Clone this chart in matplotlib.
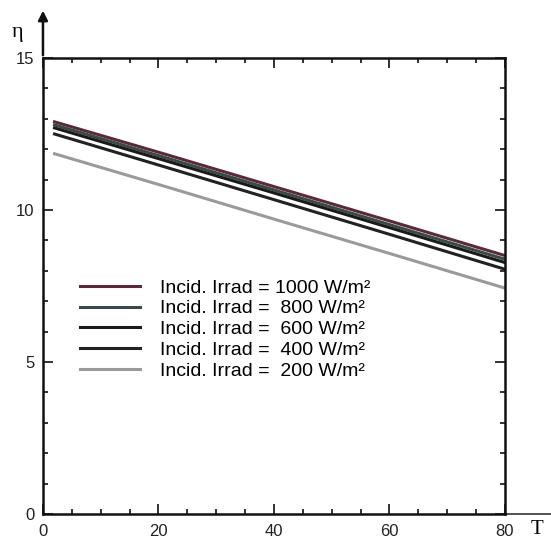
import matplotlib
matplotlib.use("Agg")
import matplotlib.pyplot as plt
from matplotlib.ticker import MultipleLocator

# temperature (deg C) and efficiency (%)
temps = [2, 20, 40, 60, 80]
eta_1000 = [12.90, 11.90, 10.77, 9.64, 8.50]
eta_800 = [12.80, 11.79, 10.66, 9.52, 8.38]
eta_600 = [12.70, 11.69, 10.56, 9.42, 8.27]
eta_400 = [12.50, 11.48, 10.34, 9.20, 8.05]
eta_200 = [11.85, 10.84, 9.70, 8.57, 7.43]

labels = [
    "Incid. Irrad = 1000 W/m\u00b2",
    "Incid. Irrad =  800 W/m\u00b2",
    "Incid. Irrad =  600 W/m\u00b2",
    "Incid. Irrad =  400 W/m\u00b2",
    "Incid. Irrad =  200 W/m\u00b2",
]
values = [eta_1000, eta_800, eta_600, eta_400, eta_200]
colors = ["#5a2a36", "#3a4a4a", "#1a1a1a", "#222222", "#9a9a9a"]

plt.rcParams["font.family"] = ["Liberation Sans", "DejaVu Sans"]

fig = plt.figure(figsize=(5.51, 5.45), dpi=100)
ax = fig.add_axes([0.078, 0.0569, 0.8385, 0.8367])

for label, vals, col in zip(labels, values, colors):
    ax.plot(temps, vals, color=col, lw=2.2, label=label)

ax.set_xlim(0, 80)
ax.set_ylim(0, 15)
ax.xaxis.set_major_locator(MultipleLocator(20))
ax.xaxis.set_minor_locator(MultipleLocator(5))
ax.yaxis.set_major_locator(MultipleLocator(5))
ax.yaxis.set_minor_locator(MultipleLocator(1))
ax.tick_params(which="both", direction="in", top=True, right=True,
               width=1.3, labelsize=12, colors="#222222")
ax.tick_params(which="major", length=7)
ax.tick_params(which="minor", length=3.5)
ax.tick_params(axis="x", which="major", pad=7)
ax.tick_params(axis="y", which="major", pad=6)
for sp in ax.spines.values():
    sp.set_linewidth(1.8)
    sp.set_color("#111111")

# axis arrow on the y axis and the x axis running on past the frame
ax.annotate("", xy=(0, 1.11), xytext=(0, 1.0), xycoords="axes fraction",
            arrowprops=dict(arrowstyle="-|>", color="#111111", lw=1.8,
                            mutation_scale=14), annotation_clip=False)
ax.plot([1.0, 1.1], [0, 0], transform=ax.transAxes, color="#333333",
        lw=1.2, clip_on=False)

ax.text(-0.055, 1.055, "\u03b7", transform=ax.transAxes, fontsize=16,
        family=["Liberation Serif", "DejaVu Serif"], ha="center", va="center")
ax.text(1.07, -0.033, "T", transform=ax.transAxes, fontsize=15,
        family=["Liberation Serif", "DejaVu Serif"], ha="center", va="center")

ax.legend(loc="upper left", bbox_to_anchor=(0.08, 0.515), frameon=False,
          fontsize=14, handlelength=3.1, handletextpad=1.0,
          labelspacing=0.16, borderpad=0, borderaxespad=0)

fig.savefig("out.png", dpi=100)
